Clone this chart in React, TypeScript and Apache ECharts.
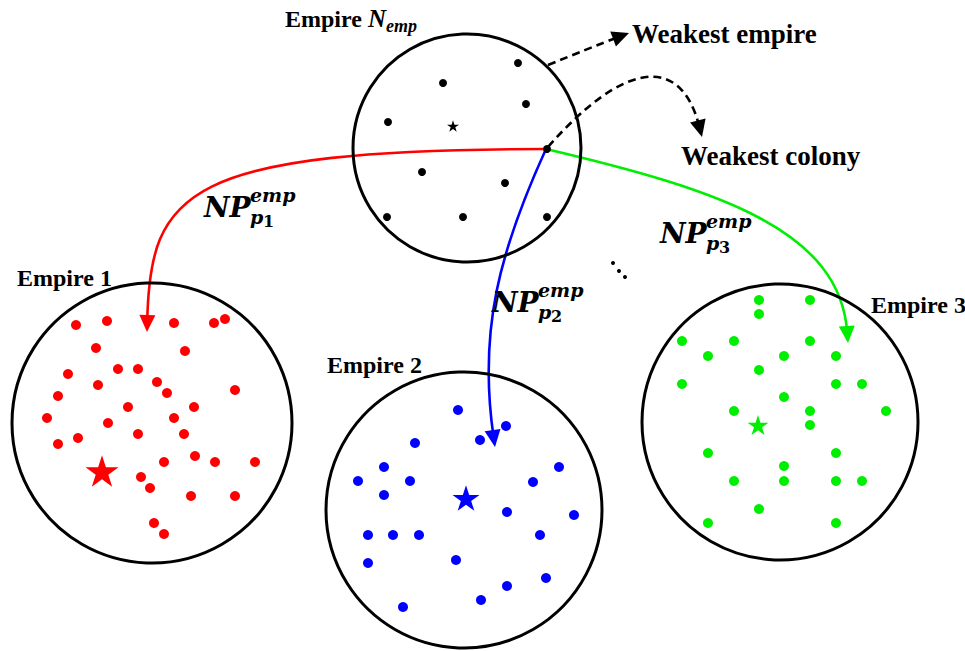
import React, { useEffect, useRef } from "react";
import * as echarts from "echarts";

const W = 965;
const H = 651;

// circles: [cx, cy, r]
const empireCircles = [
  [467, 148, 114],
  [152, 423, 140],
  [464, 510, 138],
  [780, 422, 138],
];

const empireNDots = [
  [518, 63], [443, 83], [526, 104], [388, 122], [422, 172], [505, 183],
  [387, 217], [463, 217], [547, 217], [547, 149],
];
const empire1Dots = [
  [76, 325], [107, 321], [174, 323], [214, 323], [225, 319], [96, 348], [185, 351],
  [68, 374], [118, 369], [138, 369], [157, 382], [98, 385], [167, 393], [235, 390],
  [58, 396], [128, 407], [194, 407], [47, 418], [174, 418], [108, 423], [138, 434],
  [184, 434], [78, 438], [58, 444], [164, 462], [195, 456], [215, 462], [255, 462],
  [141, 477], [150, 488], [191, 496], [235, 496], [154, 523], [164, 534],
];
const empire2Dots = [
  [458, 410], [506, 426], [480, 440], [415, 443], [384, 467], [559, 467], [358, 481],
  [410, 481], [533, 482], [384, 495], [507, 512], [574, 515], [368, 535], [393, 535],
  [419, 535], [540, 535], [456, 560], [368, 563], [546, 578], [507, 586], [481, 600],
  [403, 607],
];
const empire3Dots = [
  [759, 300], [810, 300], [759, 314], [682, 341], [734, 341], [810, 341], [708, 356],
  [784, 356], [836, 356], [759, 370], [682, 384], [836, 384], [862, 384], [784, 397],
  [734, 411], [810, 411], [886, 411], [810, 425], [708, 453], [836, 453], [784, 466],
  [734, 481], [784, 481], [836, 481], [862, 481], [759, 509], [708, 523], [836, 523],
];
// stars: [x, y, size]
const starsN = [[453, 126, 12]];
const stars1 = [[102, 471, 33]];
const stars2 = [[466, 498, 27]];
const stars3 = [[758, 425, 21]];
const ellipsisDots = [[613, 263], [619, 271], [625, 277]];

// arrows as cubic bezier control points
const arrowRedPts = [[546, 149], [185, 150], [150, 190], [147, 332]];
const arrowBluePts = [[546, 149], [500, 250], [478, 330], [495, 447]];
const arrowGreenPts = [[546, 149], [720, 190], [840, 230], [848, 343]];
const arrowEmpirePts = [[548, 65], [575, 54], [600, 44], [629, 33]];
const arrowColonyPts = [[548, 147], [620, 65], [680, 50], [702, 137]];

const arrowList = [arrowRedPts, arrowBluePts, arrowGreenPts, arrowEmpirePts, arrowColonyPts];
const arrowStyles = [
  { color: "#ff0000", dash: null as any },
  { color: "#0000ff", dash: null as any },
  { color: "#00ee00", dash: null as any },
  { color: "#000000", dash: [8, 5] },
  { color: "#000000", dash: [8, 5] },
];

const STAR =
  "path://M50,0L61.2,34.5L97.6,34.5L68.2,55.9L79.4,90.5L50,69.1L20.6,90.5L31.8,55.9L2.4,34.5L38.8,34.5Z";

const serif = "'Liberation Serif', 'Times New Roman', serif";
const mathFont = "'DejaVu Serif', serif";

function txt(text: string, x: number, baseline: number, size: number, family: string, italic: boolean, weight = "bold") {
  const k = family === mathFont ? 0.35 : 0.34;
  return {
    type: "text",
    x,
    y: baseline - k * size,
    silent: true,
    z: 10,
    style: {
      text,
      fill: "#000",
      fontSize: size,
      fontFamily: family,
      fontWeight: weight,
      fontStyle: italic ? "italic" : "normal",
      align: "left",
      verticalAlign: "middle",
    },
  };
}

function npLabel(x: number, baseline: number, digit: string) {
  return [
    txt("NP", x, baseline, 28, mathFont, true),
    txt("emp", x + 46, baseline - 15, 19, mathFont, true),
    txt("p", x + 46, baseline + 7, 19, mathFont, true),
    txt(digit, x + 59, baseline + 10, 16, mathFont, false),
  ];
}

export default function App() {
  const ref = useRef<HTMLDivElement>(null);
  useEffect(() => {
    if (!ref.current) return;
    const chart = echarts.init(ref.current, null, { renderer: "svg" });

    const dotSeries = (data: number[][], color: string, size: number) => ({
      type: "scatter",
      data,
      symbol: "circle",
      symbolSize: size,
      itemStyle: { color, opacity: 1 },
      silent: true,
    });
    const starSeries = (data: number[][], color: string) => ({
      type: "scatter",
      data,
      symbol: STAR,
      symbolKeepAspect: true,
      symbolSize: (v: number[]) => v[2],
      itemStyle: { color, opacity: 1 },
      silent: true,
    });

    const option: any = {
      animation: false,
      backgroundColor: "#ffffff",
      grid: { left: 0, right: 0, top: 0, bottom: 0 },
      xAxis: { type: "value", min: 0, max: W, show: false },
      yAxis: { type: "value", min: 0, max: H, inverse: true, show: false },
      series: [
        {
          type: "scatter",
          data: empireCircles,
          symbol: "circle",
          symbolSize: (v: number[]) => v[2] * 2,
          itemStyle: { color: "rgba(255,255,255,0)", borderColor: "#000", borderWidth: 3, opacity: 1 },
          silent: true,
        },
        dotSeries(empire1Dots, "#ff0000", 10),
        dotSeries(empire2Dots, "#0000ff", 10),
        dotSeries(empire3Dots, "#00ee00", 10),
        starSeries(stars1, "#ff0000"),
        starSeries(stars2, "#0000ff"),
        starSeries(stars3, "#00ee00"),
        starSeries(starsN, "#000000"),
        dotSeries(ellipsisDots, "#000000", 4),
        {
          type: "custom",
          coordinateSystem: "cartesian2d",
          silent: true,
          data: arrowList.map((a) => a.flat()),
          encode: { x: [0, 2, 4, 6], y: [1, 3, 5, 7] },
          renderItem: (params: any, api: any) => {
            const st = arrowStyles[params.dataIndex];
            const p = [0, 1, 2, 3].map((i) => api.coord([api.value(2 * i), api.value(2 * i + 1)]));
            const tip = p[3];
            let dx = p[3][0] - p[2][0];
            let dy = p[3][1] - p[2][1];
            const len = Math.sqrt(dx * dx + dy * dy) || 1;
            dx /= len;
            dy /= len;
            const L = 17;
            const hw = 8;
            const bx = tip[0] - dx * L;
            const by = tip[1] - dy * L;
            const nx = -dy;
            const ny = dx;
            const endX = tip[0] - dx * L * 0.6;
            const endY = tip[1] - dy * L * 0.6;
            return {
              type: "group",
              children: [
                {
                  type: "bezierCurve",
                  shape: {
                    x1: p[0][0], y1: p[0][1],
                    cpx1: p[1][0], cpy1: p[1][1],
                    cpx2: p[2][0], cpy2: p[2][1],
                    x2: endX, y2: endY,
                  },
                  style: { stroke: st.color, lineWidth: 2.6, fill: "none", lineDash: st.dash || undefined },
                },
                {
                  type: "polygon",
                  shape: { points: [[tip[0], tip[1]], [bx + nx * hw, by + ny * hw], [bx - nx * hw, by - ny * hw]] },
                  style: { fill: st.color },
                },
              ],
            };
          },
        },
        dotSeries(empireNDots, "#000000", 8),
      ],
      graphic: {
        elements: [
          txt("Empire", 285, 27, 24, serif, false),
          txt("N", 368, 27, 25, serif, true),
          txt("emp", 386, 32, 18, serif, true),
          txt("Empire 1", 17, 286, 24, serif, false),
          txt("Empire 2", 327, 373, 24, serif, false),
          txt("Empire 3", 871, 313, 24, serif, false),
          txt("Weakest empire", 632, 43, 27, serif, false),
          txt("Weakest colony", 681, 165, 27, serif, false),
          ...npLabel(204, 217, "1"),
          ...npLabel(492, 312, "2"),
          ...npLabel(660, 243, "3"),
        ],
      },
    };
    chart.setOption(option);
    return () => chart.dispose();
  }, []);
  return (
    <div
      ref={ref}
      style={{ position: "fixed", left: 0, top: 0, width: W, height: H, background: "#fff" }}
    />
  );
}
